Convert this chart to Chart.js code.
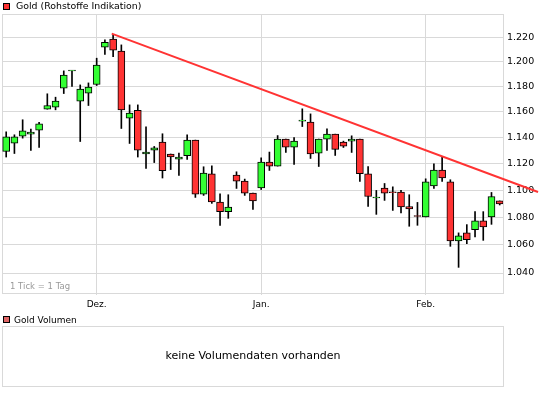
<!DOCTYPE html>
<html><head><meta charset="utf-8">
<script src="https://cdn.jsdelivr.net/npm/chart.js@4"></script>
<style>
html,body{margin:0;padding:0;background:#fff;}
#wrap{position:relative;width:545px;height:395px;overflow:hidden;font-family:"DejaVu Sans",sans-serif;}
canvas{position:absolute;left:0;top:0;}
.t{position:absolute;white-space:nowrap;line-height:1;color:#000;}
.sq{position:absolute;box-sizing:border-box;border:1px solid #000;}
</style></head><body>
<div id="wrap">
<canvas id="c" width="545" height="395"></canvas>
<div class="sq" style="left:3px;top:3px;width:7px;height:7px;background:#ff3333"></div>
<div class="t" style="left:16px;top:1px;font-size:9.4px">Gold (Rohstoffe Indikation)</div>
<div class="t" style="left:10px;top:282px;font-size:8.5px;color:#999">1 Tick = 1 Tag</div>
<div class="sq" style="left:3px;top:316px;width:7px;height:7px;background:#e06666"></div>
<div class="t" style="left:14px;top:315.5px;font-size:9px">Gold Volumen</div>
<div style="position:absolute;left:2px;top:326px;width:502px;height:61px;box-sizing:border-box;border:1px solid #d9d9d9"></div>
<div class="t" style="left:2px;width:502px;text-align:center;top:350px;font-size:11px">keine Volumendaten vorhanden</div>
</div>
<script>
// Daily candles (index 0..60)
const openV  = [1.1293,1.1358,1.1412,1.1427,1.1458,1.1622,1.1638,1.1789,1.1927,1.1686,1.1749,1.1818,1.2121,1.2187,1.2089,1.1552,1.1614,1.1274,1.1304,1.1366,1.1274,1.1235,1.1261,1.1381,1.0972,1.1124,1.0913,1.0842,1.1114,1.1069,1.0979,1.1017,1.1212,1.1182,1.1389,1.1327,1.1528,1.1521,1.1281,1.1389,1.1427,1.1366,1.1373,1.1389,1.1124,1.0943,1.1017,1.0986,1.0987,1.0879,1.0813,1.0803,1.1032,1.1152,1.1064,1.0629,1.0687,1.0711,1.0774,1.0803,1.0921];
const highV  = [1.1445,1.1422,1.1539,1.1466,1.1518,1.1744,1.1717,1.1928,1.1928,1.1815,1.1831,1.2031,1.2181,1.2225,1.2140,1.1656,1.1656,1.1484,1.1332,1.1430,1.1274,1.1281,1.1422,1.1381,1.1177,1.1184,1.0974,1.0967,1.1139,1.1084,1.0979,1.1245,1.1289,1.1416,1.1389,1.1401,1.1625,1.1585,1.1389,1.1468,1.1427,1.1373,1.1414,1.1389,1.1179,1.0999,1.1051,1.1026,1.0999,1.0967,1.0910,1.1086,1.1199,1.1255,1.1079,1.0687,1.0747,1.0842,1.0842,1.0984,1.0921];
const lowV   = [1.1251,1.1278,1.1396,1.1301,1.1324,1.1622,1.1617,1.1746,1.1802,1.1370,1.1651,1.1810,1.2061,1.2044,1.1471,1.1355,1.1251,1.1164,1.1209,1.1092,1.1156,1.1111,1.1232,1.0947,1.0962,1.0903,1.0742,1.0793,1.1014,1.0962,1.0859,1.1006,1.1149,1.1182,1.1286,1.1194,1.1486,1.1240,1.1179,1.1301,1.1263,1.1324,1.1286,1.1066,1.0881,1.0822,1.0925,1.0851,1.0832,1.0735,1.0742,1.0803,1.1014,1.1066,1.0590,1.0440,1.0609,1.0658,1.0633,1.0749,1.0891];
const closeV = [1.1406,1.1406,1.1453,1.1443,1.1507,1.1651,1.1686,1.1894,1.1927,1.1781,1.1797,1.1974,1.2162,1.2097,1.1617,1.1591,1.1304,1.1289,1.1322,1.1147,1.1251,1.1251,1.1381,1.0972,1.1129,1.0913,1.0842,1.0876,1.1069,1.0979,1.0921,1.1212,1.1182,1.1389,1.1327,1.1373,1.1528,1.1274,1.1389,1.1427,1.1309,1.1335,1.1389,1.1124,1.0954,1.0943,1.0979,1.0982,1.0876,1.0862,1.0806,1.1064,1.1152,1.1092,1.0629,1.0665,1.0638,1.0774,1.0730,1.0954,1.0899];
// x axis labels and the candle index where each month starts
const monthLabels = ['Dez.','Jan.','Feb.'];
const monthIndex  = [11, 31, 51];
// y axis tick values
const yTicks = [1.04,1.06,1.08,1.10,1.12,1.14,1.16,1.18,1.20,1.22];
// resistance trend line (candle index, price)
const trendX = [12.83, 64.66];
const trendY = [1.2233, 1.0987];

const UP = '#33ff33', DOWN = '#ff3333', GRID = '#d9d9d9';
const bodies = openV.map((o,i)=>({x:i, y:[o, closeV[i]]}));
const wicks  = lowV.map((l,i)=>({x:i, y:[l, highV[i]]}));
const bodyColors = openV.map((o,i)=> closeV[i] >= o ? UP : DOWN);
const trend = trendX.map((x,i)=>({x:x, y:trendY[i]}));

const frame = {
  id:'frame',
  beforeDatasetsDraw(chart){
    const {ctx, chartArea:a} = chart;
    ctx.save();
    ctx.strokeStyle = GRID; ctx.lineWidth = 1;
    ctx.strokeRect(a.left+0.5, a.top+0.5, a.right-a.left, a.bottom-a.top);
    ctx.restore();
  }
};

new Chart(document.getElementById('c'), {
  type:'bar',
  data:{datasets:[
    {type:'line', data:trend, borderColor:DOWN, borderWidth:2, pointRadius:0, clip:false, order:0, tension:0},
    {type:'bar', data:bodies, backgroundColor:bodyColors, borderColor:'#000', borderWidth:1, borderSkipped:false, barThickness:7, minBarLength:1, grouped:false, order:1},
    {type:'bar', data:wicks, backgroundColor:'#000', borderWidth:0, barThickness:1, grouped:false, order:2}
  ]},
  options:{
    responsive:false, animation:false, events:[],
    layout:{padding:{left:2, top:14, right:0, bottom:0}},
    plugins:{legend:{display:false}, tooltip:{enabled:false}},
    scales:{
      x:{type:'linear', position:'bottom', min:-0.51, max:60.4, offset:false,
        grid:{offset:false, color:GRID, drawTicks:true, tickLength:2, tickColor:GRID},
        border:{display:false},
        afterBuildTicks:s=>{ s.ticks = monthIndex.map(v=>({value:v})); },
        ticks:{callback:(v,i)=>monthLabels[i], font:{family:'DejaVu Sans', size:9}, color:'#000', padding:4, maxRotation:0, autoSkip:false},
        afterFit:s=>{ s.height = 102; }
      },
      y:{type:'logarithmic', position:'right', min:1.026, max:1.2397,
        grid:{color:GRID, drawTicks:false},
        border:{display:false},
        afterBuildTicks:s=>{ s.ticks = yTicks.map(v=>({value:v})); },
        ticks:{callback:v=>Number(v).toFixed(3), font:{family:'DejaVu Sans', size:9.5}, color:'#000', padding:4, autoSkip:false},
        afterFit:s=>{ s.width = 42; }
      }
    }
  },
  plugins:[frame]
});
</script>
</body></html>
